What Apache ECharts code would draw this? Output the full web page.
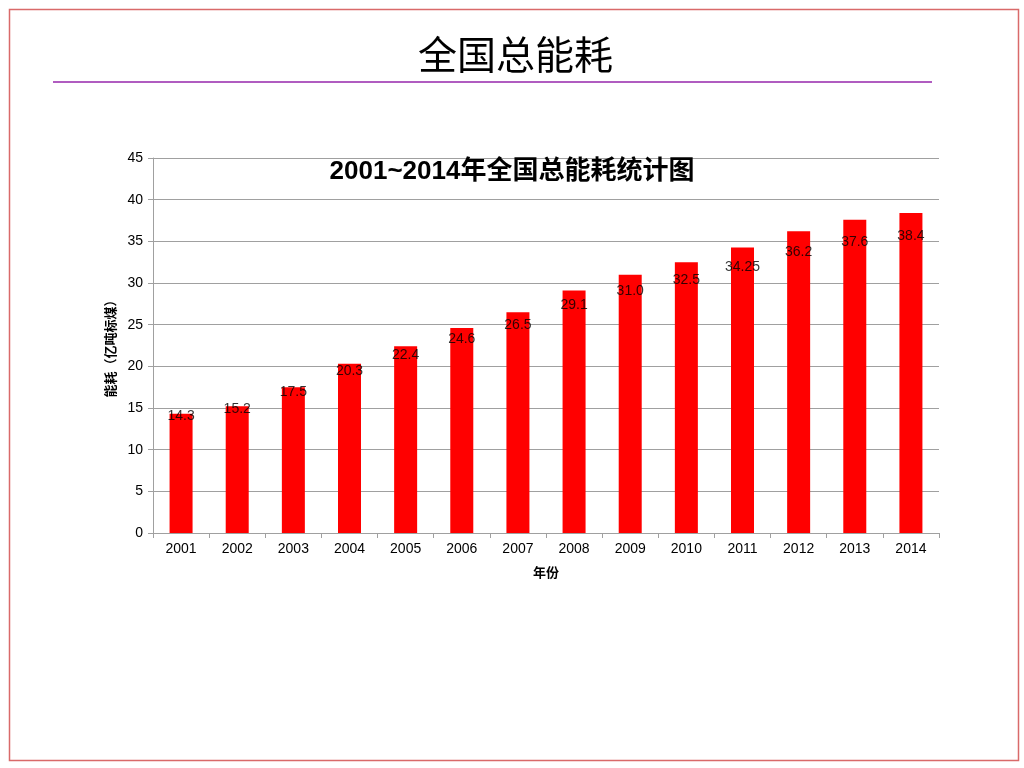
<!DOCTYPE html>
<html>
<head>
<meta charset="utf-8">
<script src="https://cdn.jsdelivr.net/npm/echarts@6/dist/echarts.min.js"></script>
<style>html,body{margin:0;padding:0;background:#fff;}#c{width:1024px;height:768px;}</style>
</head>
<body>
<div id="c"></div>
<script>
var years = ['2001','2002','2003','2004','2005','2006','2007','2008','2009','2010','2011','2012','2013','2014'];
var values = [14.3, 15.2, 17.5, 20.3, 22.4, 24.6, 26.5, 29.1, 31.0, 32.5, 34.25, 36.2, 37.6, 38.4];
var labelTexts = ['14.3','15.2','17.5','20.3','22.4','24.6','26.5','29.1','31.0','32.5','34.25','36.2','37.6','38.4'];

var chart = echarts.init(document.getElementById('c'));
var font = '"Liberation Sans", Arial, "Noto Sans CJK SC", sans-serif';
chart.setOption({
  animation: false,
  backgroundColor: '#fff',
  textStyle: { fontFamily: font },
  graphic: [
    { type: 'rect', shape: { x: 9.5, y: 9.5, width: 1009, height: 751 }, style: { fill: 'none', stroke: '#d96a6a', lineWidth: 1.5 } },
    { type: 'line', shape: { x1: 53, y1: 82, x2: 932, y2: 82 }, style: { stroke: '#b05cc0', lineWidth: 2 } },
    { type: 'text', left: 418, top: 35, style: { text: '全国总能耗', font: '39px "Noto Sans CJK SC", sans-serif', fill: '#000' } }
  ],
  title: {
    text: '2001~2014年全国总能耗统计图',
    left: 507, textAlign: 'center', top: 154,
    textStyle: { fontSize: 26, fontWeight: 'bold', color: '#000', fontFamily: '"Liberation Sans", Arial, "Noto Sans CJK SC", sans-serif' }
  },
  grid: { left: 153, right: 85, top: 158, bottom: 235, containLabel: false },
  xAxis: {
    type: 'category', data: years,
    name: '年份', nameLocation: 'middle', nameGap: 33,
    nameTextStyle: { fontSize: 13, fontWeight: 'bold', color: '#000', fontFamily: '"Noto Sans CJK SC", sans-serif' },
    axisLine: { lineStyle: { color: '#a0a0a0' } },
    axisTick: { show: true, length: 5, alignWithLabel: false, lineStyle: { color: '#a0a0a0' } },
    axisLabel: { fontSize: 14, color: '#000', margin: 9 }
  },
  yAxis: [{
    type: 'value', min: 0, max: 45, interval: 5,
    name: '能耗（亿吨标煤）', nameLocation: 'middle', nameGap: 33, nameRotate: 90,
    nameTextStyle: { fontSize: 13, fontWeight: 'bold', color: '#000', fontFamily: '"Noto Sans CJK SC", sans-serif' },
    axisLine: { show: true, lineStyle: { color: '#a0a0a0' } },
    axisTick: { show: true, length: 5, lineStyle: { color: '#a0a0a0' } },
    axisLabel: { fontSize: 14, color: '#000', margin: 10 },
    splitLine: { lineStyle: { color: '#a0a0a0' } }
  }, {
    type: 'value', min: -1.38, max: 48.8, show: false, splitLine: { show: false }
  }],
  series: [{
    type: 'bar', data: values, barWidth: 23,
    itemStyle: { color: '#ff0000' }
  }, {
    type: 'scatter', yAxisIndex: 1, data: values, symbolSize: 1,
    itemStyle: { color: 'rgba(0,0,0,0)' },
    label: { show: true, position: 'inside', fontSize: 14, color: '#000',
      formatter: function (p) { return labelTexts[p.dataIndex]; } },
    z: 5
  }]
});
</script>
</body>
</html>
